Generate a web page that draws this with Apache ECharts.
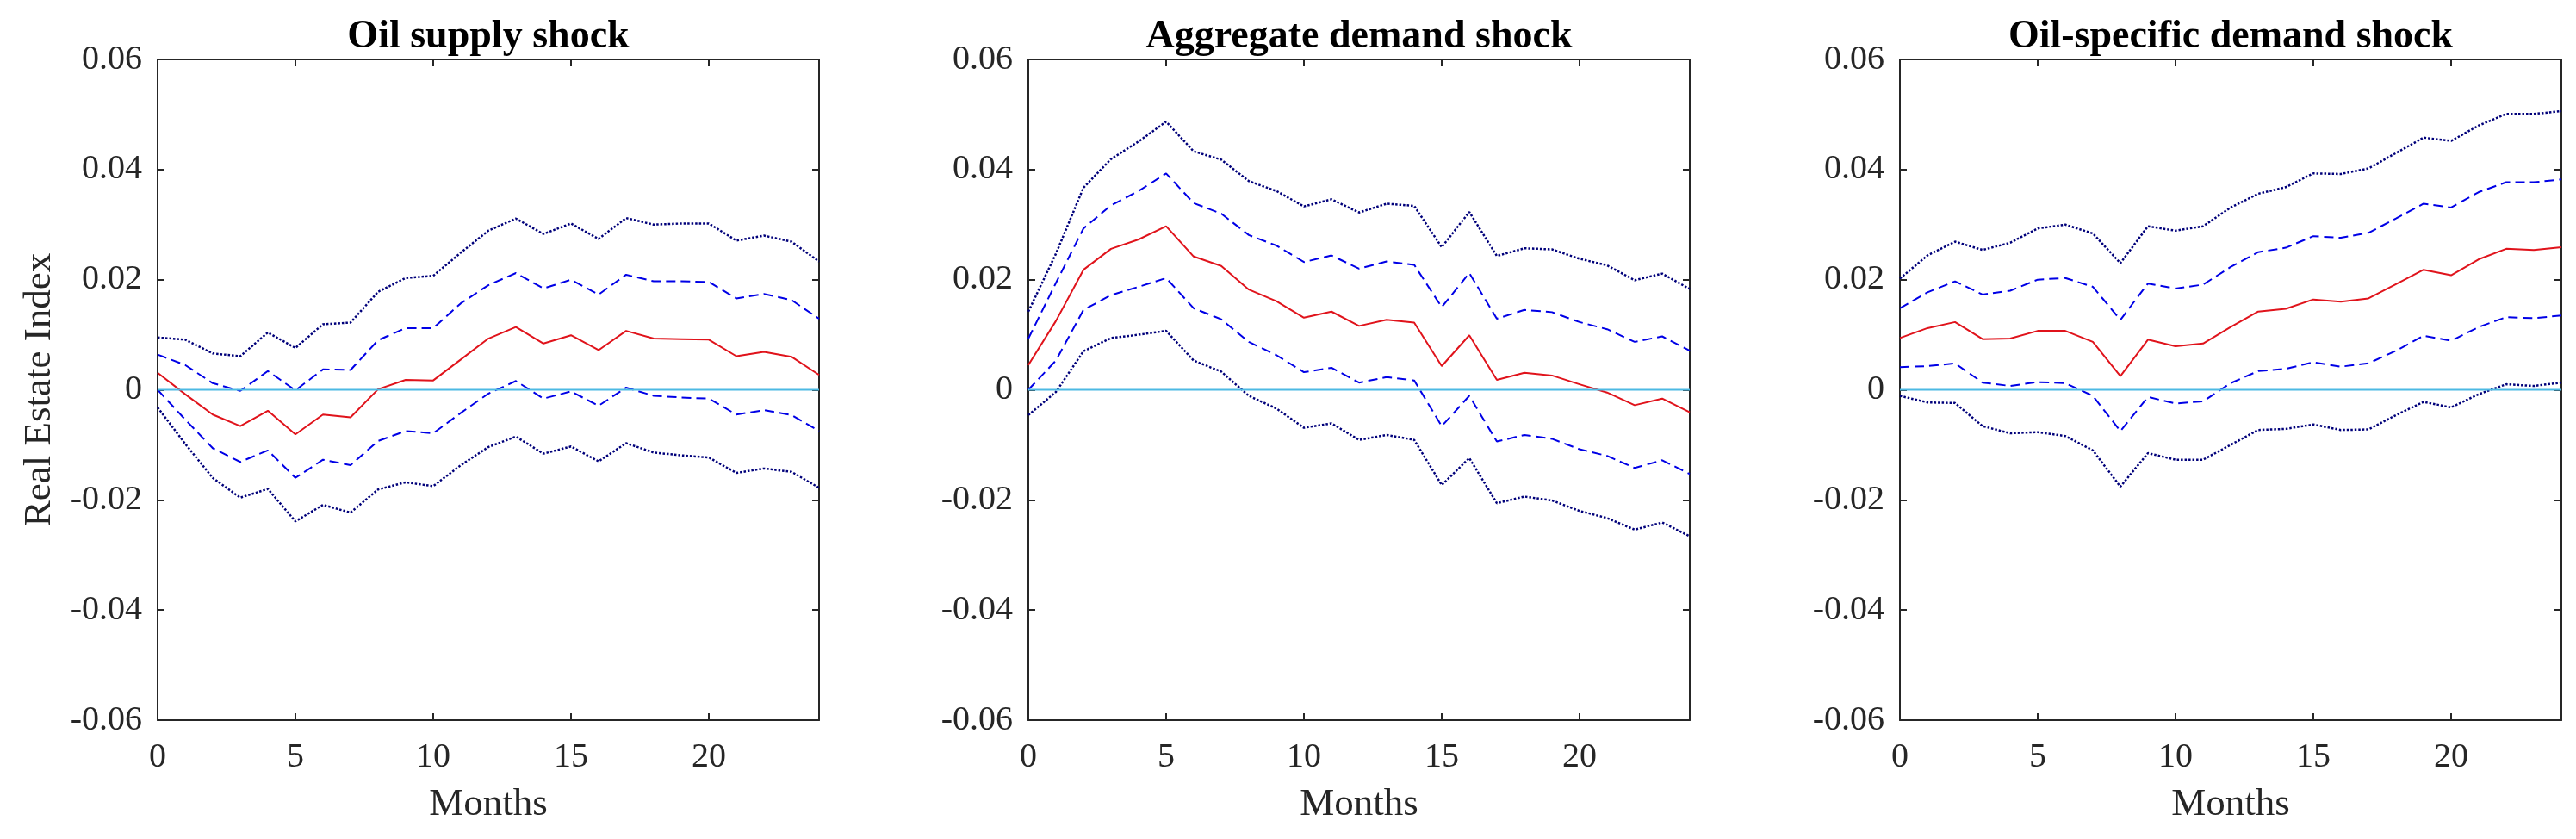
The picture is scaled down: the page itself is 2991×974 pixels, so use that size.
<!DOCTYPE html>
<html>
<head>
<meta charset="utf-8">
<script src="https://cdn.jsdelivr.net/npm/echarts@6/dist/echarts.min.js"></script>
<style>
  html, body { margin: 0; padding: 0; background: #ffffff; }
  #chart { width: 2991px; height: 974px; }
</style>
</head>
<body>
<div id="chart"></div>
<script>
// ---------- DATA ----------
const months = [0,1,2,3,4,5,6,7,8,9,10,11,12,13,14,15,16,17,18,19,20,21,22,23,24];
const panelTitles = ['Oil supply shock', 'Aggregate demand shock', 'Oil-specific demand shock'];
const yTicks = [-0.06, -0.04, -0.02, 0, 0.02, 0.04, 0.06];
const xTicks = [0, 5, 10, 15, 20];
const zeroLine = [0,0,0,0,0,0,0,0,0,0,0,0,0,0,0,0,0,0,0,0,0,0,0,0,0];

// Panel 1: Oil supply shock
const supplyIRF     = [0.0031,-0.0008,-0.0045,-0.0066,-0.0038,-0.0081,-0.0045,-0.0050,0.0001,0.0018,0.0017,0.0055,0.0093,0.0114,0.0084,0.0099,0.0072,0.0107,0.0093,0.0092,0.0091,0.0061,0.0069,0.0060,0.0027];
const supplyUpperA  = [0.0064,0.0045,0.0012,-0.0002,0.0034,-0.0001,0.0037,0.0036,0.0090,0.0112,0.0112,0.0157,0.0190,0.0212,0.0184,0.0200,0.0173,0.0209,0.0197,0.0197,0.0196,0.0166,0.0174,0.0163,0.0129];
const supplyLowerA  = [0.0000,-0.0054,-0.0106,-0.0131,-0.0110,-0.0160,-0.0127,-0.0137,-0.0093,-0.0075,-0.0079,-0.0042,-0.0007,0.0016,-0.0016,-0.0003,-0.0029,0.0004,-0.0011,-0.0014,-0.0016,-0.0045,-0.0037,-0.0046,-0.0075];
const supplyUpperB  = [0.0095,0.0091,0.0066,0.0061,0.0104,0.0076,0.0119,0.0122,0.0178,0.0203,0.0207,0.0249,0.0289,0.0311,0.0283,0.0302,0.0274,0.0312,0.0300,0.0302,0.0302,0.0271,0.0280,0.0269,0.0233];
const supplyLowerB  = [-0.0032,-0.0098,-0.0160,-0.0196,-0.0180,-0.0239,-0.0209,-0.0223,-0.0181,-0.0168,-0.0175,-0.0137,-0.0104,-0.0085,-0.0116,-0.0103,-0.0130,-0.0097,-0.0114,-0.0119,-0.0123,-0.0151,-0.0143,-0.0149,-0.0178];

// Panel 2: Aggregate demand shock
const aggIRF        = [0.0045,0.0125,0.0218,0.0256,0.0273,0.0297,0.0242,0.0225,0.0182,0.0161,0.0131,0.0142,0.0116,0.0127,0.0122,0.0043,0.0099,0.0018,0.0031,0.0026,0.0010,-0.0005,-0.0028,-0.0016,-0.0041];
const aggUpperA     = [0.0093,0.0194,0.0293,0.0335,0.0361,0.0393,0.0339,0.0320,0.0281,0.0262,0.0232,0.0244,0.0220,0.0233,0.0227,0.0150,0.0212,0.0129,0.0145,0.0141,0.0123,0.0110,0.0087,0.0097,0.0071];
const aggLowerA     = [0.0000,0.0053,0.0145,0.0172,0.0187,0.0203,0.0148,0.0128,0.0087,0.0063,0.0032,0.0040,0.0013,0.0023,0.0017,-0.0066,-0.0011,-0.0094,-0.0082,-0.0089,-0.0108,-0.0120,-0.0142,-0.0128,-0.0153];
const aggUpperB     = [0.0142,0.0247,0.0367,0.0419,0.0451,0.0487,0.0433,0.0418,0.0379,0.0361,0.0333,0.0346,0.0322,0.0338,0.0334,0.0259,0.0323,0.0243,0.0257,0.0255,0.0238,0.0226,0.0199,0.0211,0.0183];
const aggLowerB     = [-0.0046,-0.0004,0.0070,0.0094,0.0100,0.0107,0.0053,0.0033,-0.0011,-0.0034,-0.0069,-0.0061,-0.0091,-0.0082,-0.0091,-0.0173,-0.0124,-0.0206,-0.0194,-0.0201,-0.0220,-0.0233,-0.0254,-0.0241,-0.0266];

// Panel 3: Oil-specific demand shock
const specIRF       = [0.0094,0.0112,0.0123,0.0092,0.0093,0.0107,0.0107,0.0087,0.0025,0.0091,0.0079,0.0084,0.0114,0.0142,0.0147,0.0164,0.0160,0.0166,0.0192,0.0218,0.0208,0.0237,0.0256,0.0254,0.0259];
const specUpperA    = [0.0148,0.0177,0.0197,0.0173,0.0180,0.0200,0.0203,0.0187,0.0127,0.0193,0.0184,0.0191,0.0223,0.0250,0.0258,0.0279,0.0276,0.0285,0.0311,0.0338,0.0331,0.0359,0.0377,0.0377,0.0382];
const specLowerA    = [0.0041,0.0043,0.0048,0.0013,0.0007,0.0014,0.0012,-0.0011,-0.0075,-0.0013,-0.0025,-0.0021,0.0012,0.0034,0.0038,0.0050,0.0042,0.0048,0.0071,0.0098,0.0089,0.0114,0.0132,0.0130,0.0135];
const specUpperB    = [0.0202,0.0244,0.0269,0.0254,0.0267,0.0293,0.0300,0.0284,0.0230,0.0297,0.0289,0.0297,0.0331,0.0356,0.0368,0.0393,0.0392,0.0402,0.0430,0.0458,0.0452,0.0480,0.0501,0.0501,0.0506];
const specLowerB    = [-0.0011,-0.0023,-0.0024,-0.0066,-0.0079,-0.0077,-0.0084,-0.0110,-0.0176,-0.0115,-0.0127,-0.0127,-0.0100,-0.0073,-0.0071,-0.0063,-0.0073,-0.0072,-0.0046,-0.0022,-0.0032,-0.0008,0.0010,0.0007,0.0013];

// ---------- LAYOUT / STYLE ----------
const panels = [
  { irf: supplyIRF, ua: supplyUpperA, la: supplyLowerA, ub: supplyUpperB, lb: supplyLowerB },
  { irf: aggIRF,    ua: aggUpperA,    la: aggLowerA,    ub: aggUpperB,    lb: aggLowerB },
  { irf: specIRF,   ua: specUpperA,   la: specLowerA,   ub: specUpperB,   lb: specLowerB }
];
const gridLefts = [183, 1194, 2206];
const gridTop = 69, gridW = 768, gridH = 767;
const FONT = "'Liberation Serif', 'Times New Roman', serif";
const AXIS_COLOR = '#262626';

const grids = [], xAxes = [], yAxes = [], series = [], titles = [];

function pairs(arr) { return months.map((m, i) => [m, arr[i]]); }
function yFmt(v) { return Math.abs(v) < 1e-9 ? '0' : v.toFixed(2); }

panels.forEach((p, k) => {
  grids.push({ left: gridLefts[k], top: gridTop, width: gridW, height: gridH, containLabel: false });
  titles.push({
    text: panelTitles[k],
    left: gridLefts[k] + gridW / 2,
    top: 20,
    padding: 0,
    textAlign: 'center',
    textStyle: { fontFamily: FONT, fontWeight: 'bold', fontSize: 46, color: '#000000' }
  });
  const common = {
    gridIndex: k, type: 'value', min: 0, max: 24, interval: 5,
    axisLine: { show: true, onZero: false, lineStyle: { color: AXIS_COLOR, width: 2 } },
    axisTick: { show: true, inside: true, length: 8, lineStyle: { color: AXIS_COLOR, width: 2 } },
    splitLine: { show: false }
  };
  xAxes.push(Object.assign({}, common, {
    position: 'bottom',
    axisLabel: {
      show: true, margin: 23, fontFamily: FONT, fontSize: 40, color: AXIS_COLOR,
      showMaxLabel: false,
      formatter: v => (xTicks.indexOf(v) >= 0 ? String(v) : '')
    },
    name: 'Months', nameLocation: 'middle', nameGap: 76,
    nameTextStyle: { fontFamily: FONT, fontSize: 45, color: AXIS_COLOR }
  }));
  xAxes.push(Object.assign({}, common, { position: 'top', axisLabel: { show: false } }));
  const ycommon = {
    gridIndex: k, type: 'value', min: -0.06, max: 0.06, interval: 0.02,
    axisLine: { show: true, onZero: false, lineStyle: { color: AXIS_COLOR, width: 2 } },
    axisTick: { show: true, inside: true, length: 8, lineStyle: { color: AXIS_COLOR, width: 2 } },
    splitLine: { show: false }
  };
  const yLeft = Object.assign({}, ycommon, {
    position: 'left',
    axisLabel: { show: true, margin: 18, fontFamily: FONT, fontSize: 40, color: AXIS_COLOR, formatter: yFmt }
  });
  if (k === 0) {
    yLeft.name = 'Real Estate Index';
    yLeft.nameLocation = 'middle';
    yLeft.nameGap = 114;
    yLeft.nameTextStyle = { fontFamily: FONT, fontSize: 45, color: AXIS_COLOR };
  }
  yAxes.push(yLeft);
  yAxes.push(Object.assign({}, ycommon, { position: 'right', axisLabel: { show: false } }));

  const xi = k * 2, yi = k * 2;
  const mk = (arr, color, type, width, z) => ({
    type: 'line', xAxisIndex: xi, yAxisIndex: yi, data: pairs(arr),
    showSymbol: false, symbol: 'none', silent: true, animation: false, z: z,
    lineStyle: { color: color, type: type, width: width }
  });
  series.push(mk(p.ub, '#00007a', [2.5, 2], 2.5, 2));
  series.push(mk(p.lb, '#00007a', [2.5, 2], 2.5, 2));
  series.push(mk(p.ua, '#0000e6', [11, 6], 2, 3));
  series.push(mk(p.la, '#0000e6', [11, 6], 2, 3));
  series.push(mk(p.irf, '#e0131b', 'solid', 2, 4));
  series.push(mk(zeroLine, '#4cb9e3', 'solid', 2, 5));
});

const chart = echarts.init(document.getElementById('chart'), null, { renderer: 'canvas' });
chart.setOption({
  backgroundColor: '#ffffff',
  animation: false,
  title: titles,
  grid: grids,
  xAxis: xAxes,
  yAxis: yAxes,
  series: series
});
</script>
</body>
</html>
